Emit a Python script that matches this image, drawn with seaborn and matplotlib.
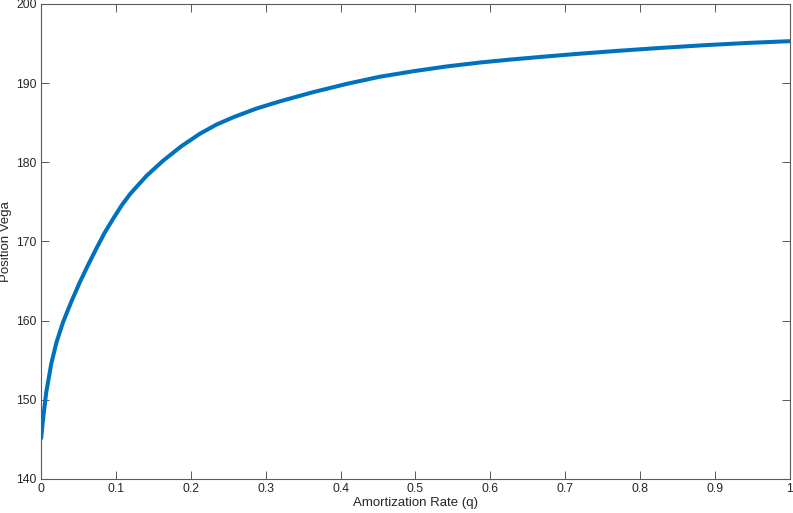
import numpy as np
import pandas as pd
import matplotlib
matplotlib.use("Agg")
import matplotlib.pyplot as plt
import seaborn as sns

# values
rate = [0.0, 0.0035, 0.0071, 0.0138, 0.0205, 0.0294, 0.0405, 0.0516, 0.0627, 0.0744,
        0.085, 0.0965, 0.108, 0.119, 0.141, 0.163, 0.187, 0.212, 0.234, 0.257,
        0.288, 0.319, 0.363, 0.408, 0.452, 0.497, 0.541, 0.586, 0.626, 0.666,
        0.717, 0.769, 0.826, 0.884, 0.942, 1.0]
vega = [145.0, 148.2, 151.0, 154.6, 157.2, 159.8, 162.4, 164.8, 167.0, 169.2,
        171.1, 172.9, 174.6, 176.0, 178.3, 180.2, 182.0, 183.6, 184.75, 185.7,
        186.8, 187.7, 188.85, 189.9, 190.8, 191.5, 192.1, 192.6, 192.97, 193.3,
        193.7, 194.07, 194.44, 194.78, 195.07, 195.3]

xticks = [0, 0.1, 0.2, 0.3, 0.4, 0.5, 0.6, 0.7, 0.8, 0.9, 1]
xticklabels = ["0", "0.1", "0.2", "0.3", "0.4", "0.5", "0.6", "0.7", "0.8", "0.9", "1"]
yticks = [140, 150, 160, 170, 180, 190, 200]


def main():
    sns.set_style("ticks")
    plt.rcParams['font.family'] = ['Liberation Sans', 'DejaVu Sans']

    df = pd.DataFrame({"rate": rate, "vega": vega})

    fig = plt.figure(figsize=(7.93, 5.13), dpi=100)
    ax = fig.add_axes([0.0517, 0.0663, 0.9445, 0.926])

    sns.lineplot(data=df, x="rate", y="vega", ax=ax, color="#0072BD",
                 linewidth=2.9, solid_capstyle="butt", solid_joinstyle="round")

    ax.set_xlim(0, 1)
    ax.set_ylim(140, 200)
    ax.set_xticks(xticks)
    ax.set_xticklabels(xticklabels)
    ax.set_yticks(yticks)

    axcol = "#5a5a5a"
    for s in ax.spines.values():
        s.set_visible(True)
        s.set_color(axcol)
        s.set_linewidth(0.8)
    ax.tick_params(direction="in", length=5.5, width=0.7, color=axcol,
                   top=True, right=True, labelsize=8.8, labelcolor="#262626", pad=3)

    ax.set_xlabel("Amortization Rate (q)", fontsize=9.5, color="#262626", labelpad=1)
    ax.set_ylabel("Position Vega", fontsize=9.5, color="#262626", labelpad=3)

    fig.savefig("out.png", dpi=100)


if __name__ == '__main__':
    main()
